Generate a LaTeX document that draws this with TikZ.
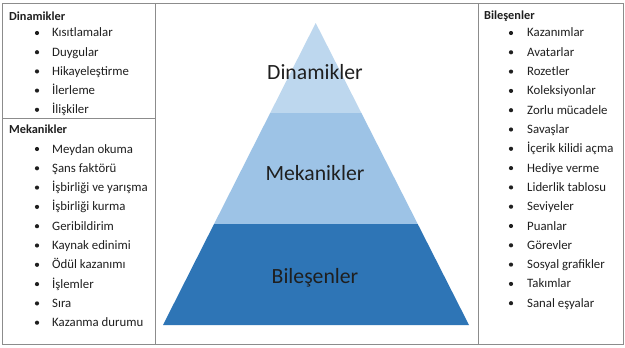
\documentclass[tikz,border=0pt]{standalone}
\usepackage{fontspec}
\setmainfont{Carlito}
\definecolor{topband}{HTML}{BDD7EE}
\definecolor{midband}{HTML}{9DC3E6}
\definecolor{botband}{HTML}{2E75B6}
\definecolor{frame}{HTML}{8C8C8C}
\definecolor{ink}{HTML}{1F1F1F}
\begin{document}
\begin{tikzpicture}[x=1pt,y=-1pt,
  frameline/.style={draw=frame,line width=0.8pt},
  head/.style={anchor=base west,inner sep=0pt,font=\fontsize{12.3}{14}\selectfont\bfseries,text=ink},
  item/.style={anchor=base west,inner sep=0pt,font=\fontsize{12.8}{14}\selectfont,text=ink},
  plabel/.style={anchor=base,inner sep=0pt,font=\fontsize{21.7}{24}\selectfont,text=ink},
  dot/.style={fill=ink}]
\useasboundingbox (0,0) rectangle (625,348);
\fill[white] (0,0) rectangle (625,348);
% frame
\draw[frameline] (2,3) rectangle (623,344);
\draw[frameline] (155,3) -- (155,344);
\draw[frameline] (478,3) -- (478,344);
\draw[frameline] (2,118) -- (155,118);
% pyramid
\begin{scope}
\clip (315.7,23) -- (163,325) -- (469,325) -- cycle;
\fill[topband] (150,20) rectangle (480,113);
\fill[midband] (150,113) rectangle (480,224);
\fill[botband] (150,224) rectangle (480,330);
\end{scope}
\node[plabel] (pd) at (315,79) {Dinamikler};
\node[plabel] (pm) at (315,180) {Mekanikler};
\node[plabel] (pb) at (315,283) {Bileşenler};
% left column: Dinamikler
\node[head] (hd) at (9,20.5) {Dinamikler};
\foreach \t [count=\i from 0] in {Kısıtlamalar,Duygular,Hikayeleştirme,İlerleme,İlişkiler}{
  \fill[dot] (37,{33+19.2*\i}) circle (2.1);
  \node[item] (d\i) at (52,{37+19.2*\i}) {\t};
}
% left column: Mekanikler
\node[head] (hm) at (9,133.5) {Mekanikler};
\foreach \t [count=\i from 0] in {Meydan okuma,Şans faktörü,İşbirliği ve yarışma,İşbirliği kurma,Geribildirim,Kaynak edinimi,Ödül kazanımı,İşlemler,Sıra,Kazanma durumu}{
  \fill[dot] (37,{149+19.3*\i}) circle (2.1);
  \node[item] (m\i) at (52,{153+19.3*\i}) {\t};
}
% right column: Bileşenler
\node[head] (hb) at (484,19.5) {Bileşenler};
\foreach \t [count=\i from 0] in {Kazanımlar,Avatarlar,Rozetler,Koleksiyonlar,Zorlu mücadele,Savaşlar,İçerik kilidi açma,Hediye verme,Liderlik tablosu,Seviyeler,Puanlar,Görevler,Sosyal grafikler,Takımlar,Sanal eşyalar}{
  \fill[dot] (511,{33+19.3*\i}) circle (2.1);
  \node[item] (b\i) at (527,{37+19.3*\i}) {\t};
}
\end{tikzpicture}
\end{document}
